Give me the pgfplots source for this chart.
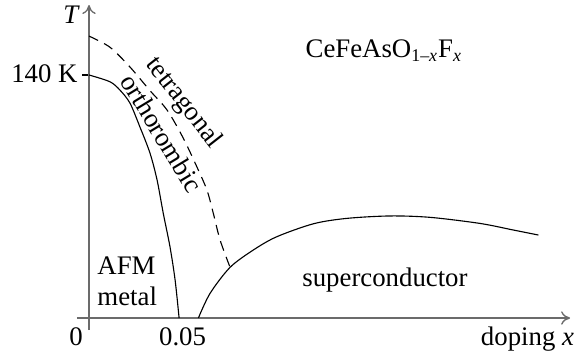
\documentclass[border=0pt]{standalone}
\usepackage{pgfplots}
\pgfplotsset{compat=1.18}
\usepackage{fontspec}
\setmainfont{Liberation Serif}
\usetikzlibrary{arrows.meta}
\begin{document}
\fontsize{12}{14}\selectfont
\begin{tikzpicture}
\begin{axis}[
  x=815.4pt, y=0.7777pt,
  xmin=-0.0066, xmax=0.2643, ymin=-6.9, ymax=180.3,
  axis lines=middle,
  enlargelimits=false,
  clip=false,
  axis line style={draw=black!58, line width=0.6pt, -{To[length=4pt,width=6pt]}},
  xtick=\empty,
  ytick={140}, yticklabels={},
  tick align=outside,
  major tick length=3.1pt,
  ytick style={draw=black, line width=0.5pt},
]
% AFM boundary
\addplot[black, line width=0.5pt, smooth, tension=0.5] coordinates {
(0,140) (0.0115,136.1) (0.017,131.3) (0.0225,123.8) (0.028,110) (0.0335,95) (0.0374,79.5) (0.0408,60.3) (0.0445,41) (0.0473,21.9) (0.0495,0)
};
% structural transition
\addplot[black, line width=0.5pt, dash pattern=on 4.5pt off 3pt, smooth, tension=0.5] coordinates {
(0,162.4) (0.0115,156) (0.0225,144.6) (0.0335,131) (0.0429,119.8) (0.0516,104) (0.0593,87) (0.0648,73.7) (0.0683,60.3) (0.072,45) (0.0775,29.2)
};
% superconducting dome
\addplot[black, line width=0.5pt, smooth, tension=0.5] coordinates {
(0.0601,0) (0.0665,14.2) (0.0775,29.2) (0.0903,39.2) (0.1031,46.8) (0.1233,54.3) (0.1416,57.4) (0.1654,58.8) (0.1874,58) (0.2148,54.5) (0.2331,50.7) (0.2469,47.8)
};
% labels
\node[anchor=base, inner sep=0pt] at (axis cs:-0.0096,169.9) {\textit{T}};
\node[anchor=base east, inner sep=0pt] at (axis cs:-0.00604,135.4) {140 K};
\node[anchor=base, inner sep=0pt] at (axis cs:-0.0071,-15.55) {0};
\node[anchor=base, inner sep=0pt] at (axis cs:0.0514,-15.55) {0.05};
\node[anchor=base, inner sep=0pt] at (axis cs:0.2409,-15.55) {doping \textit{x}};
\node[anchor=base west, inner sep=0pt] at (axis cs:0.1188,150.3) {CeFeAsO\textsubscript{1\textendash\textit{x}}F\textsubscript{\textit{x}}};
\node[anchor=base west, inner sep=0pt] at (axis cs:0.0044,24.8) {AFM};
\node[anchor=base west, inner sep=0pt] at (axis cs:0.0044,7.5) {metal};
\node[anchor=base west, inner sep=0pt] at (axis cs:0.117,17.9) {superconductor};
\node[rotate=-52, inner sep=0pt] at (axis cs:0.0518,123.8) {tetragonal};
\node[rotate=-58.8, inner sep=0pt] at (axis cs:0.0400,106.4) {orthorombic};
\path (axis cs:-0.0489,-20.7) rectangle (axis cs:0.2725,183.2);
\end{axis}
\end{tikzpicture}
\end{document}
